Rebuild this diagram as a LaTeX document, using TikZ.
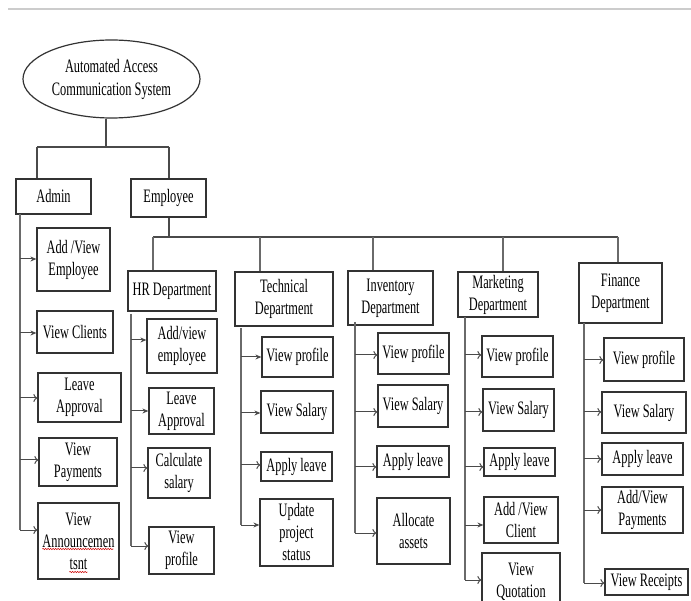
\documentclass[tikz,border=0pt]{standalone}
\usepackage{fontspec}
\setmainfont{Liberation Serif}[FakeStretch=0.65]
\usetikzlibrary{arrows.meta,shapes.geometric,decorations.pathmorphing}
\definecolor{boxc}{HTML}{333333}
\definecolor{linec}{HTML}{4A4A4A}
\definecolor{trunkc}{HTML}{6A6A6A}
\tikzset{
  bx/.style={draw=boxc, line width=1.2pt, inner sep=0pt, align=center, font=\fontsize{19}{22}\selectfont},
  ln/.style={draw=linec, line width=1.2pt},
  tr/.style={draw=trunkc, line width=1.2pt},
  af/.style={draw=linec, line width=1pt, -{Stealth[length=6pt,width=5pt]}},
  ao/.style={draw=linec, line width=1pt, -{To[length=4pt,width=8pt]}},
  squig/.style={draw=red!80!black, line width=0.6pt, decorate, decoration={snake, amplitude=0.6pt, segment length=2.5pt}},
}
\newcommand\mybox[6]{\node[bx, minimum width=#4pt, minimum height=#5pt] (#1) at (#2,#3) {#6};}
\newcommand\myarr[4]{\draw[#1] (#2 |- 0,#4) -- (#3.west |- 0,#4);}
\begin{document}
\begin{tikzpicture}[x=1pt,y=-1pt]
\useasboundingbox (0,0) rectangle (691,601);
\clip (0,0) rectangle (691,601);
% top rule
\draw[draw=black!20, line width=1.5pt] (8,9) -- (691,9);

% root
\node[ellipse, draw=boxc, line width=1.2pt, inner sep=0pt, minimum width=177pt, minimum height=78pt, align=center, font=\fontsize{19}{23}\selectfont] (root) at (111.5,79) {Automated Access\\Communication System};

\mybox{admin}{53.5}{196.5}{75}{35}{Admin}
\mybox{emp}{168.5}{198}{75}{38}{Employee}

\coordinate (rb) at (106,147);
\draw[ln] (root.south -| rb) -- (rb);
\coordinate (rl) at (37,147);
\coordinate (rr) at (169,147);
\draw[ln] (rl) -- (rr);
\draw[ln] (rl) -- (admin.north -| rl);
\draw[ln] (rr) -- (emp.north -| rr);

% Admin children
\mybox{A1}{73.5}{259.5}{73}{63}{Add /View\\Employee}
\mybox{A2}{75}{332}{76}{42}{View Clients}
\mybox{A3}{79.5}{397.5}{83}{49}{Leave\\Approval}
\mybox{A4}{78}{462}{78}{48}{View\\Payments}
\mybox{A5}{78.5}{541}{81}{76}{View\\Announcemen\\tsnt}
\coordinate (tA) at (20,214);
\draw[tr] (tA) -- (tA |- 0,530);
\myarr{af}{tA}{A1}{259}
\myarr{af}{tA}{A2}{333}
\myarr{ao}{tA}{A3}{398}
\myarr{ao}{tA}{A4}{460}
\myarr{ao}{tA}{A5}{530}
\draw[squig] (A5.west |- 0,549) ++(5,0) -- ++(71,0);
\draw[squig] (A5.west |- 0,572) ++(32,0) -- ++(18,0);

% Employee bus
\coordinate (eb) at (169,237);
\draw[ln] (emp.south -| eb) -- (eb);
\coordinate (bus) at (153,237);
\coordinate (busE) at (618,237);
\draw[ln] (bus) -- (busE);

% Departments
\mybox{HR}{172}{291}{88}{40}{HR Department}
\mybox{TD}{284}{299}{98}{54}{Technical\\Department}
\mybox{ID}{390.5}{298}{85}{54}{Inventory\\Department}
\mybox{MD}{498}{294.5}{80}{45}{Marketing\\Department}
\mybox{FD}{620.5}{293}{83}{60}{Finance\\Department}

\draw[tr] (bus) -- (HR.north -| bus);
\draw[tr] (bus -| 260,0) -- (TD.north -| 260,0);
\draw[tr] (bus -| 373,0) -- (ID.north -| 373,0);
\draw[tr] (bus -| 503,0) -- (MD.north -| 503,0);
\draw[tr] (busE) -- (FD.north -| busE);

% HR children
\mybox{H1}{182}{346}{70}{54}{Add/view\\employee}
\mybox{H2}{181.5}{411}{65}{46}{Leave\\Approval}
\mybox{H3}{179}{473}{62}{50}{Calculate\\salary}
\mybox{H4}{181.5}{550.5}{65}{47}{View\\profile}
\coordinate (tH) at (131,314);
\draw[tr] (tH) -- (tH |- 0,546);
\myarr{af}{tH}{H1}{340}
\myarr{af}{tH}{H2}{411}
\myarr{ao}{tH}{H3}{468}
\myarr{ao}{tH}{H4}{546}

% Technical children
\mybox{T1}{297.5}{357}{71}{40}{View profile}
\mybox{T2}{297}{412}{72}{42}{View Salary}
\mybox{T3}{296.5}{466.5}{71}{29}{Apply leave}
\mybox{T4}{296.5}{532.5}{73}{67}{Update\\project\\status}
\coordinate (tT) at (241,328);
\draw[tr] (tT) -- (tT |- 0,525);
\myarr{af}{tT}{T1}{357}
\myarr{af}{tT}{T2}{413}
\myarr{ao}{tT}{T3}{465}
\myarr{af}{tT}{T4}{525}

% Inventory children
\mybox{I1}{413.5}{353.5}{71}{41}{View profile}
\mybox{I2}{413}{406}{70}{42}{View Salary}
\mybox{I3}{413}{461.5}{72}{31}{Apply leave}
\mybox{I4}{413.5}{531}{73}{66}{Allocate\\assets}
\coordinate (tI) at (355,322);
\draw[tr] (tI) -- (tI |- 0,533);
\myarr{ao}{tI}{I1}{355}
\myarr{ao}{tI}{I2}{412}
\myarr{ao}{tI}{I3}{467}
\myarr{ao}{tI}{I4}{533}

% Marketing children
\mybox{M1}{517.5}{356.5}{71}{41}{View profile}
\mybox{M2}{518.5}{410}{71}{42}{View Salary}
\mybox{M3}{519.5}{462}{71}{28}{Apply leave}
\mybox{M4}{521}{520}{74}{46}{Add /View\\Client}
\mybox{M5}{521}{581.5}{78}{57}{View\\Quotation}
\coordinate (tM) at (465,317);
\draw[tr] (tM) -- (tM |- 0,580);
\myarr{ao}{tM}{M1}{355}
\myarr{ao}{tM}{M2}{412}
\myarr{ao}{tM}{M3}{467}
\myarr{af}{tM}{M4}{525}
\myarr{ao}{tM}{M5}{580}

% Finance children
\mybox{F1}{644}{359.5}{80}{43}{View profile}
\mybox{F2}{644}{412.5}{84}{41}{View Salary}
\mybox{F3}{642.5}{459}{81}{32}{Apply leave}
\mybox{F4}{642.5}{510}{81}{46}{Add/View\\Payments}
\mybox{F5}{646.5}{582}{83}{26}{View Receipts}
\coordinate (tF) at (584,323);
\draw[tr] (tF) -- (tF |- 0,583);
\myarr{ao}{tF}{F1}{360}
\myarr{ao}{tF}{F2}{412}
\myarr{ao}{tF}{F3}{459}
\myarr{ao}{tF}{F4}{510}
\myarr{ao}{tF}{F5}{583}
\end{tikzpicture}
\end{document}
